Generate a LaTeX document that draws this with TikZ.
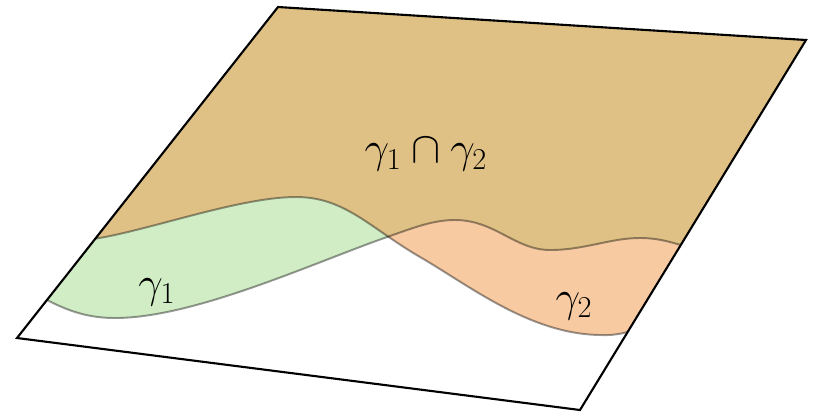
\documentclass[tikz,border=0pt]{standalone}
\usepackage{amsmath,amssymb}
\usepackage{tikz}
\usepackage{xcolor}
\usetikzlibrary{calc}

\definecolor{setgreen}{RGB}{140,210,110}
\definecolor{setorange}{RGB}{240,150,70}

\begin{document}
\begin{tikzpicture}[
  x=0.02cm, y=-0.02cm,
  font=\fontsize{25}{30}\selectfont,
  setone/.style={fill=setgreen, fill opacity=0.4},
  settwo/.style={fill=setorange, fill opacity=0.5},
  rim/.style={draw=black, draw opacity=0.4, line width=1.1pt},
  frame/.style={draw=black, line width=1.2pt, line join=miter}
]
\useasboundingbox (0,0) rectangle (815,417);

% corners of the plane
\coordinate (A) at (278,7);
\coordinate (B) at (806,40);
\coordinate (C) at (580,410);
\coordinate (D) at (17,338);

% where the two boundaries meet the edges
\coordinate (c1l) at ($(A)!0.885!(D)$);
\coordinate (c1r) at ($(B)!0.554!(C)$);
\coordinate (c2l) at ($(A)!0.70!(D)$);
\coordinate (c2r) at ($(B)!0.789!(C)$);

% lower boundary of gamma_1
\def\curveone{(c1l) .. controls (70,312) and (90,318) .. (115,318)
  .. controls (195,318) and (315,262) .. (390,236)
  .. controls (418,226) and (435,220) .. (455,220)
  .. controls (495,220) and (515,250) .. (550,250)
  .. controls (585,250) and (610,238) .. (640,238)
  .. controls (658,238) and (670,242) .. (c1r)}
% lower boundary of gamma_2
\def\curvetwo{(c2l) .. controls (150,230) and (240,197) .. (296,197)
  .. controls (345,197) and (370,228) .. (420,257)
  .. controls (470,286) and (530,334) .. (600,335)
  .. controls (612,335.5) and (620,334) .. (c2r)}

\fill[setone] \curveone -- (B) -- (A) -- cycle;
\fill[settwo] \curvetwo -- (B) -- (A) -- cycle;

\draw[rim] \curveone;
\draw[rim] \curvetwo;

\draw[frame] (A) -- (B) -- (C) -- (D) -- cycle;

\node (g1) at (157,292) {$\gamma_1$};
\node (g2) at (574,306) {$\gamma_2$};
\node (g12) at (426,155) {$\gamma_1 \cap \gamma_2$};
\end{tikzpicture}
\end{document}
